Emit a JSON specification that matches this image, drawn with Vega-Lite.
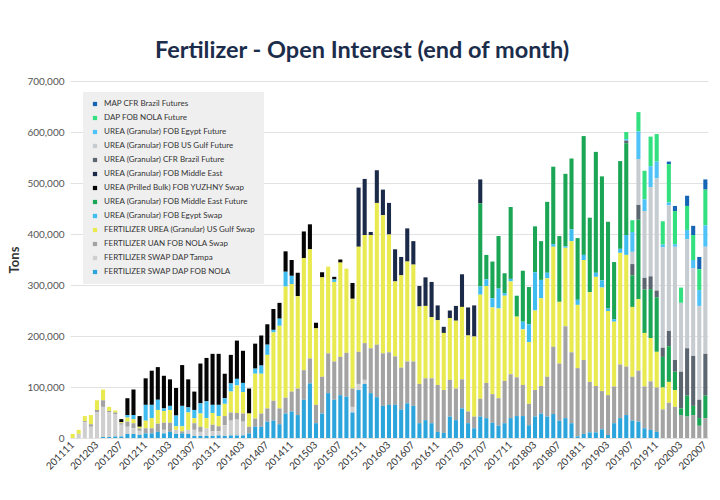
{
"$schema":"https://vega.github.io/schema/vega-lite/v6.json",
"width":638,"height":357,
"autosize":{"type":"none"},
"padding":{"left":70,"top":81,"right":12,"bottom":62},
"title":{"text":"Fertilizer - Open Interest (end of month)","anchor":"start","dx":146,"offset":14,"fontSize":23.5,"fontWeight":"bold","font":"Lato","color":"#1b2d4b"},
"datasets":{"names":[
{"k":"A","series":"MAP CFR Brazil Futures"},
{"k":"B","series":"DAP FOB NOLA Future"},
{"k":"C","series":"UREA (Granular) FOB Egypt Future"},
{"k":"D","series":"UREA (Granular) FOB US Gulf Future"},
{"k":"E","series":"UREA (Granular) CFR Brazil Future"},
{"k":"F","series":"UREA (Granular) FOB Middle East"},
{"k":"G","series":"UREA (Prilled Bulk) FOB YUZHNY Swap"},
{"k":"H","series":"UREA (Granular) FOB Middle East Future"},
{"k":"I","series":"UREA (Granular) FOB Egypt Swap"},
{"k":"J","series":"FERTILIZER UREA (Granular) US Gulf Swap"},
{"k":"K","series":"FERTILIZER UAN FOB NOLA Swap"},
{"k":"L","series":"FERTILIZER SWAP DAP Tampa"},
{"k":"M","series":"FERTILIZER SWAP DAP FOB NOLA"}
]},
"data":{"values":[
{"m":"201111","J":8000},
{"m":"201112","J":8000,"L":8000},
{"m":"201201","J":10000,"K":2000,"L":31000},
{"m":"201202","J":18000,"K":5000,"L":22000},
{"m":"201203","J":19000,"K":5000,"L":50000},
{"m":"201204","J":21000,"K":13000,"L":59000,"M":2000},
{"m":"201205","J":8000,"K":3000,"L":48000,"M":2000},
{"m":"201206","J":4000,"K":3000,"L":44000,"M":3000},
{"m":"201207","G":6000,"J":2000,"K":3000,"L":23000,"M":3000},
{"m":"201208","G":33000,"I":5000,"J":8000,"K":10000,"L":14000,"M":8000},
{"m":"201209","G":50000,"I":8000,"J":8000,"K":10000,"L":11000,"M":8000},
{"m":"201210","G":21000,"J":3000,"K":5000,"L":8000,"M":6000},
{"m":"201211","G":52000,"I":31000,"J":15000,"K":10000,"M":9000},
{"m":"201212","G":67000,"I":26000,"J":20000,"K":10000,"M":9000},
{"m":"201301","G":64000,"I":20000,"J":27000,"K":16000,"M":12000},
{"m":"201302","G":64000,"I":5000,"J":23000,"K":14000,"L":7000,"M":9000},
{"m":"201303","G":52000,"I":8000,"J":25000,"K":18000,"M":12000},
{"m":"201304","G":54000,"I":21000,"J":7000,"L":8000,"M":8000},
{"m":"201305","G":80000,"I":40000,"J":10000,"K":4000,"M":9000},
{"m":"201306","G":55000,"I":10000,"J":34000,"L":8000,"M":8000},
{"m":"201307","G":36000,"I":16000,"J":10000,"K":13000,"L":12000,"M":4000},
{"m":"201308","G":78000,"I":20000,"J":26000,"K":10000,"L":8000,"M":4000},
{"m":"201309","G":85000,"I":33000,"J":20000,"L":15000,"M":4000},
{"m":"201310","G":100000,"I":16000,"J":23000,"K":13000,"L":9000,"M":4000},
{"m":"201311","G":100000,"I":22000,"J":20000,"K":10000,"L":8000,"M":5000},
{"m":"201312","G":48000,"I":11000,"J":24000,"K":18000,"L":21000,"M":4000},
{"m":"201401","G":56000,"I":16000,"J":41000,"K":16000,"L":29000,"M":5000},
{"m":"201402","G":75000,"I":13000,"J":54000,"K":13000,"L":31000,"M":5000},
{"m":"201403","G":63000,"I":18000,"J":42000,"K":16000,"L":27000,"M":5000},
{"m":"201404","G":49000,"J":26000,"K":13000,"M":9000},
{"m":"201405","G":49000,"I":10000,"J":88000,"K":16000,"M":22000},
{"m":"201406","G":59000,"I":16000,"J":78000,"K":26000,"M":22000},
{"m":"201407","G":40000,"I":20000,"J":105000,"K":26000,"M":32000},
{"m":"201408","G":41000,"I":5000,"J":134000,"K":39000,"M":34000},
{"m":"201409","G":31000,"I":14000,"J":162000,"K":31000,"M":27000},
{"m":"201410","G":40000,"I":29000,"J":218000,"K":31000,"M":48000},
{"m":"201411","G":31000,"I":16000,"J":211000,"K":39000,"M":52000},
{"m":"201412","G":46000,"J":181000,"K":52000,"M":45000},
{"m":"201501","G":52000,"J":220000,"K":58000,"M":75000},
{"m":"201502","G":49000,"J":214000,"K":49000,"M":107000},
{"m":"201503","G":11000,"J":150000,"K":36000,"M":29000},
{"m":"201504","G":10000,"J":195000,"K":72000,"M":48000},
{"m":"201505","J":170000,"K":78000,"M":88000},
{"m":"201506","G":5000,"I":5000,"J":156000,"K":75000,"M":75000},
{"m":"201507","G":6000,"J":185000,"K":75000,"M":84000},
{"m":"201508","J":165000,"K":86000,"M":81000},
{"m":"201509","G":31000,"J":176000,"K":36000,"L":11000,"M":50000},
{"m":"201510","F":116000,"J":206000,"K":63000,"L":12000,"M":94000},
{"m":"201511","F":110000,"J":212000,"K":72000,"L":8000,"M":106000},
{"m":"201512","F":6000,"J":222000,"K":88000,"M":88000},
{"m":"201601","F":64000,"J":278000,"K":103000,"M":80000},
{"m":"201602","F":50000,"J":271000,"K":103000,"M":63000},
{"m":"201603","F":62000,"J":231000,"K":103000,"M":65000},
{"m":"201604","F":63000,"J":147000,"K":95000,"M":65000},
{"m":"201605","F":36000,"J":181000,"K":82000,"M":56000},
{"m":"201606","F":65000,"J":196000,"K":82000,"M":68000},
{"m":"201607","F":46000,"J":190000,"K":87000,"M":63000},
{"m":"201608","F":40000,"J":152000,"K":77000,"M":29000},
{"m":"201609","F":56000,"J":142000,"K":82000,"M":35000},
{"m":"201610","F":69000,"J":120000,"K":88000,"M":29000},
{"m":"201611","F":29000,"J":127000,"K":92000,"M":12000},
{"m":"201612","F":12000,"J":112000,"K":84000,"M":10000},
{"m":"201701","F":15000,"J":121000,"K":72000,"M":42000},
{"m":"201702","F":29000,"J":133000,"K":62000,"M":35000},
{"m":"201703","F":64000,"J":142000,"K":57000,"M":58000},
{"m":"201704","F":55000,"J":149000,"K":23000,"M":29000},
{"m":"201705","F":61000,"J":157000,"K":23000,"M":19000},
{"m":"201706","F":47000,"H":163000,"I":16000,"J":204000,"K":35000,"M":42000},
{"m":"201707","H":48000,"I":13000,"J":190000,"K":69000,"M":39000},
{"m":"201708","H":72000,"I":18000,"J":170000,"K":56000,"M":30000},
{"m":"201709","H":103000,"I":39000,"J":176000,"K":54000,"M":24000},
{"m":"201710","H":39000,"I":5000,"J":167000,"K":83000,"M":29000},
{"m":"201711","H":141000,"I":5000,"J":182000,"K":86000,"M":39000},
{"m":"201712","H":41000,"J":119000,"K":76000,"M":43000},
{"m":"201801","H":100000,"I":15000,"J":109000,"K":61000,"M":43000},
{"m":"201802","H":73000,"I":35000,"J":121000,"K":42000,"M":25000},
{"m":"201803","H":90000,"I":75000,"J":156000,"K":52000,"M":42000},
{"m":"201804","H":76000,"I":36000,"J":172000,"K":54000,"M":48000},
{"m":"201805","H":139000,"I":11000,"J":193000,"K":78000,"M":42000},
{"m":"201806","H":152000,"I":5000,"J":196000,"K":132000,"M":47000},
{"m":"201807","H":129000,"J":121000,"K":112000,"M":34000},
{"m":"201808","H":142000,"I":3000,"J":154000,"K":180000,"M":39000},
{"m":"201809","H":139000,"I":23000,"J":218000,"K":139000,"M":29000},
{"m":"201810","H":121000,"I":10000,"J":124000,"K":134000,"M":3000},
{"m":"201811","H":233000,"I":10000,"J":196000,"K":145000,"M":8000},
{"m":"201812","H":146000,"J":176000,"K":99000,"M":11000},
{"m":"201901","H":237000,"I":8000,"J":214000,"K":91000,"M":11000},
{"m":"201902","H":204000,"I":14000,"J":203000,"K":75000,"M":17000},
{"m":"201903","H":170000,"I":5000,"J":165000,"K":78000,"M":6000},
{"m":"201904","H":112000,"I":5000,"J":127000,"K":72000,"M":29000},
{"m":"201905","H":172000,"I":8000,"J":219000,"K":105000,"M":39000},
{"m":"201906","B":14000,"C":3000,"E":5000,"H":180000,"I":39000,"J":219000,"K":95000,"M":45000},
{"m":"201907","B":23000,"C":39000,"D":24000,"E":22000,"H":62000,"J":137000,"K":86000,"M":34000},
{"m":"201908","B":38000,"C":54000,"D":90000,"E":29000,"H":156000,"J":140000,"K":100000,"M":32000},
{"m":"201909","B":56000,"C":23000,"D":131000,"E":23000,"H":85000,"J":105000,"K":82000,"M":19000},
{"m":"201910","B":58000,"C":41000,"D":175000,"E":25000,"H":96000,"J":85000,"K":95000,"M":16000},
{"m":"201911","B":54000,"C":33000,"D":220000,"E":13000,"H":107000,"J":70000,"K":87000,"M":12000},
{"m":"201912","B":46000,"C":5000,"D":197000,"E":18000,"H":60000,"J":43000,"K":56000},
{"m":"202001","A":5000,"B":75000,"C":6000,"D":246000,"E":30000,"H":70000,"J":41000,"K":69000},
{"m":"202002","A":10000,"B":65000,"C":5000,"D":222000,"E":23000,"H":36000,"J":33000,"K":61000},
{"m":"202003","B":30000,"D":135000,"E":72000,"H":13000,"K":45000},
{"m":"202004","A":20000,"B":47000,"C":18000,"D":214000,"E":93000,"H":41000,"K":42000},
{"m":"202005","A":18000,"B":49000,"C":16000,"D":172000,"E":98000,"H":18000,"K":45000},
{"m":"202006","A":24000,"B":41000,"C":31000,"D":184000,"E":36000,"H":15000,"K":24000},
{"m":"202007","A":20000,"B":70000,"C":42000,"D":210000,"E":82000,"H":44000,"K":39000}
]},
"transform":[
{"fold":["A","B","C","D","E","F","G","H","I","J","K","L","M"],"as":["k","v"]},
{"filter":"isValid(datum.v) && datum.v > 0"},
{"lookup":"k","from":{"data":{"name":"names"},"key":"k","fields":["series"]}},
{"calculate":"indexof(['A','B','C','D','E','F','G','H','I','J','K','L','M'], datum.k)","as":"ord"}
],
"mark":{"type":"bar"},
"encoding":{
"x":{"field":"m","type":"ordinal","scale":{"paddingInner":0.33,"paddingOuter":0.1},
"axis":{"title":null,"values":["201111","201203","201207","201211","201303","201307","201311","201403","201407","201411","201503","201507","201511","201603","201607","201611","201703","201707","201711","201803","201807","201811","201903","201907","201911","202003","202007"],
"labelAngle":-45,"labelAlign":"right","labelBaseline":"middle","labelFontSize":10,"labelColor":"#333333","labelFont":"Lato","ticks":false,"domain":false,"labelPadding":5}},
"y":{"field":"v","type":"quantitative","stack":"zero","scale":{"domain":[0,700000]},
"axis":{"title":"Tons","values":[0,100000,200000,300000,400000,500000,600000,700000],"labelExpr":"format(datum.value, ',')","grid":true,"gridColor":"#e2e2e2","domain":false,"ticks":false,"labelPadding":6,"labelFontSize":10,"labelColor":"#555555","labelFont":"Lato","titleFontSize":13,"titleFontWeight":"bold","titleFont":"Lato","titleColor":"#333333","titlePadding":5}},
"color":{"field":"series","type":"nominal",
"scale":{"domain":["MAP CFR Brazil Futures","DAP FOB NOLA Future","UREA (Granular) FOB Egypt Future","UREA (Granular) FOB US Gulf Future","UREA (Granular) CFR Brazil Future","UREA (Granular) FOB Middle East","UREA (Prilled Bulk) FOB YUZHNY Swap","UREA (Granular) FOB Middle East Future","UREA (Granular) FOB Egypt Swap","FERTILIZER UREA (Granular) US Gulf Swap","FERTILIZER UAN FOB NOLA Swap","FERTILIZER SWAP DAP Tampa","FERTILIZER SWAP DAP FOB NOLA"],
"range":["#1565b4","#33e07f","#4fc3f7","#c7ccd1","#5c6670","#1b2a48","#050505","#1aa655","#40bdf0","#e9ea4f","#a3a3a3","#cfcfcf","#2ca5dc"]},
"legend":{"orient":"none","legendX":13,"legendY":11,"direction":"vertical","title":null,"fillColor":"#efefef","padding":8,"symbolType":"square","symbolSize":18,"symbolStrokeWidth":0,"labelFontSize":8,"labelFont":"Lato","labelColor":"#333333","rowPadding":6,"labelLimit":300,"labelOffset":5}},
"order":{"field":"ord","sort":"descending"}
},
"config":{"view":{"stroke":null},"font":"Lato"}
}
